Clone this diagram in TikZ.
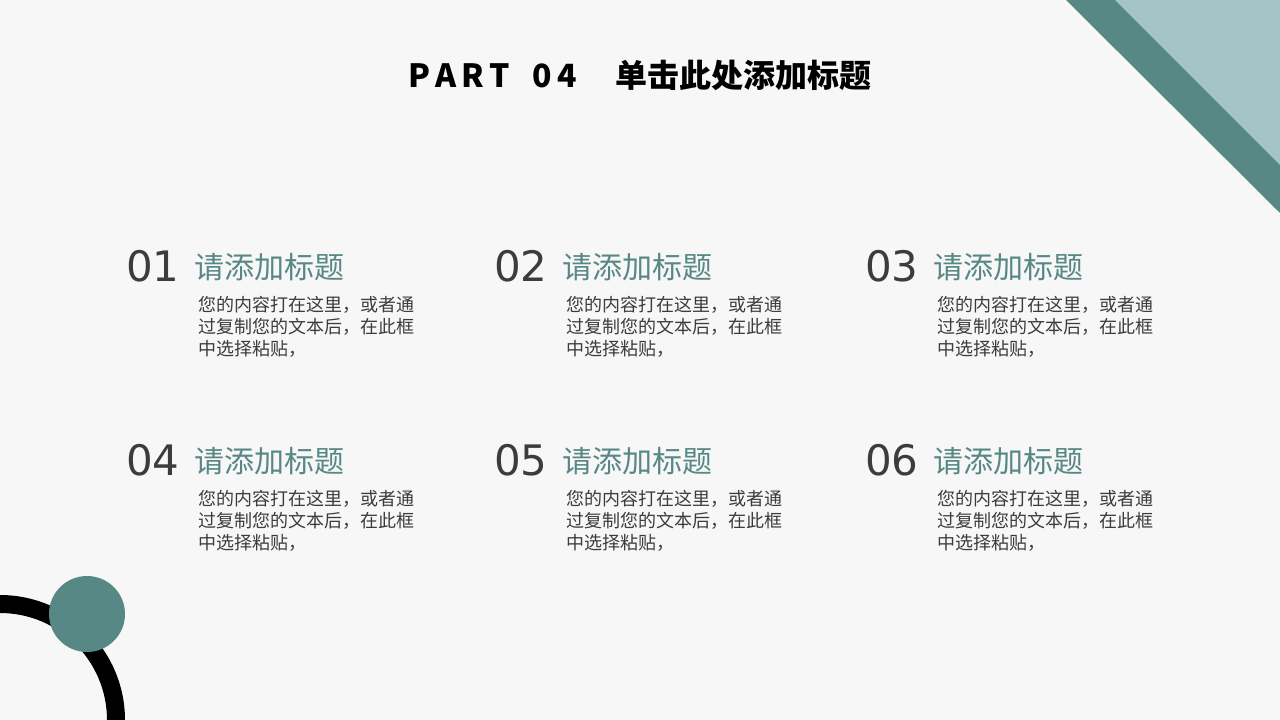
\documentclass[tikz,border=0pt]{standalone}
\usepackage{fontspec}
\setmainfont{Noto Sans CJK SC}
\newfontfamily\cjk{Noto Sans CJK SC}
\newfontfamily\numfont{DejaVu Sans}
\definecolor{teal1}{HTML}{578885}
\definecolor{teal2}{HTML}{A3C5C6}
\definecolor{txt}{HTML}{3C3C3C}
\begin{document}
\begin{tikzpicture}[x=1pt,y=-1pt,
  num/.style={font=\numfont\fontsize{42}{42}\selectfont, text=txt, anchor=west, inner sep=0},
  head/.style={font=\cjk\fontsize{30}{30}\selectfont, text=teal1, anchor=west, inner sep=0},
  body/.style={font=\cjk\fontsize{18}{22}\selectfont, text=txt, anchor=north west, inner sep=0, align=left}]
\fill[white!97!black] (0,0) rectangle (1280,720);
\useasboundingbox (0,0) rectangle (1280,720);
\fill[teal1] (1066,0) -- (1280,0) -- (1280,213) -- cycle;
\fill[teal2] (1115,0) -- (1280,0) -- (1280,165) -- cycle;
\draw[line width=18pt] (0,720) circle (116);
\fill[teal1] (87,614) circle (38);
\node[font=\cjk\fontsize{32}{32}\selectfont\bfseries, text=black] (title) at (640,75) {P\,A\,R\,T\ \ \ 0\,4\quad\ 单击此处添加标题};
\foreach \x/\y/\n [count=\i] in {128/266/01,496/266/02,867/266/03,128/460/04,496/460/05,867/460/06}{
  \node[num] (n\i) at (\x-2,\y) {\n};
  \node[head] (h\i) at (\x+66,\y+1) {请添加标题};
  \node[body] (b\i) at (\x+70,\y+30) {您的内容打在这里，或者通\\过复制您的文本后，在此框\\中选择粘贴，};
}
\end{tikzpicture}
\end{document}
